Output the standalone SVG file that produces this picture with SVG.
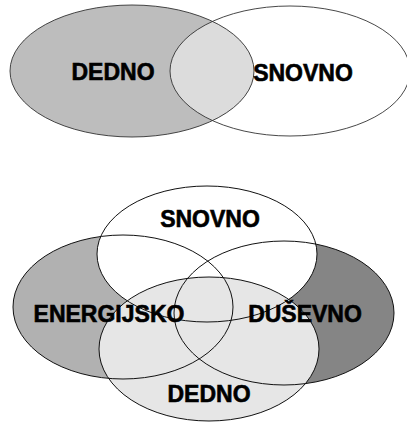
<svg xmlns="http://www.w3.org/2000/svg" xmlns:xlink="http://www.w3.org/1999/xlink" width="407" height="422" viewBox="0 0 407 422">
  <style>
    .lbl { font-family: "Liberation Sans", Arial, sans-serif; font-weight: bold; font-size: 23px; fill: #000; stroke: #000; stroke-width: 0.6; text-anchor: middle; }
    .line { fill: none; stroke: #111; stroke-width: 1; }
    .thin { fill: none; stroke: #333; stroke-width: 0.9; }
  </style>
  <defs>
    <ellipse id="e-top-dedno" cx="132" cy="71" rx="122" ry="66"/>
    <ellipse id="e-top-snovno" cx="290" cy="71" rx="120" ry="65"/>
    <clipPath id="clip-top-snovno">
      <use xlink:href="#e-top-snovno"/>
    </clipPath>
    <ellipse id="e-energ" cx="123" cy="307" rx="110" ry="72"/>
    <ellipse id="e-dusev" cx="284" cy="313" rx="110" ry="72"/>
    <ellipse id="e-snovno" cx="207" cy="254" rx="110" ry="68"/>
    <ellipse id="e-dedno" cx="209" cy="349" rx="110" ry="72"/>
  </defs>

  <rect width="407" height="422" fill="#fff"/>

  <!-- two-set diagram -->
  <g id="top-snovno">
    <use xlink:href="#e-top-snovno" fill="#fff"/>
  </g>
  <g id="top-dedno">
    <use xlink:href="#e-top-dedno" fill="#bdbdbd"/>
    <use xlink:href="#e-top-dedno" fill="#dcdcdc" clip-path="url(#clip-top-snovno)"/>
  </g>
  <g id="top-outlines">
    <use xlink:href="#e-top-dedno" class="thin"/>
    <use xlink:href="#e-top-snovno" class="thin"/>
  </g>
  <g id="top-labels">
    <text class="lbl" x="113" y="80">DEDNO</text>
    <text class="lbl" x="303" y="81">SNOVNO</text>
  </g>

  <!-- four-set diagram -->
  <g id="energijsko">
    <use xlink:href="#e-energ" fill="#b1b1b1"/>
  </g>
  <g id="dusevno">
    <use xlink:href="#e-dusev" fill="#858585"/>
  </g>
  <g id="snovno">
    <use xlink:href="#e-snovno" fill="#fff"/>
  </g>
  <g id="dedno">
    <use xlink:href="#e-dedno" fill="#e6e6e6"/>
  </g>
  <g id="outlines">
    <use xlink:href="#e-energ" class="line"/>
    <use xlink:href="#e-dusev" class="line"/>
    <use xlink:href="#e-snovno" class="line"/>
    <use xlink:href="#e-dedno" class="line"/>
  </g>
  <g id="labels">
    <text class="lbl" x="210" y="227">SNOVNO</text>
    <text class="lbl" x="109" y="322">ENERGIJSKO</text>
    <text class="lbl" x="305" y="322">DUŠEVNO</text>
    <text class="lbl" x="209" y="402">DEDNO</text>
  </g>
</svg>
